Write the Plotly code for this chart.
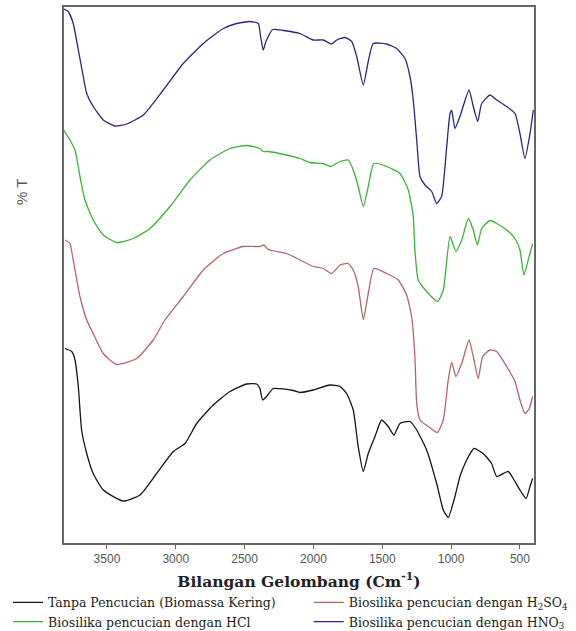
import plotly.graph_objects as go

# ---------------- data (wavenumber cm^-1, relative %T offsets) ----------------
hno3_wn = [3812, 3781, 3745, 3708, 3672, 3647, 3600, 3527, 3442, 3357, 3236, 3091, 2946, 2800,
           2655, 2558, 2461, 2401, 2384, 2365, 2345, 2296, 2219, 2098, 2001, 1929, 1868, 1831,
           1771, 1722, 1686, 1638, 1602, 1566, 1468, 1396, 1335, 1299, 1275, 1250, 1226, 1190,
           1141, 1105, 1069, 1032, 1008, 996, 972, 936, 870, 839, 807, 778, 718, 669, 597, 536,
           500, 464, 427, 403]
hno3_t = [106.8, 106.3, 103.9, 98.6, 93.3, 89.9, 87.3, 84.6, 83.4, 83.8, 85.6, 90.6, 95.9, 99.9,
          102.9, 103.9, 104.3, 103.9, 101.3, 98.6, 100.3, 102.7, 102.5, 101.9, 100.6, 100.6, 99.8, 100.6,
          101.1, 100.3, 97.3, 91.6, 96.3, 99.9, 99.8, 98.9, 96.9, 93.3, 88.6, 80.6, 73.3, 71.6,
          70.3, 67.9, 69.3, 79.3, 85.9, 86.5, 82.9, 85.3, 90.6, 87.3, 84.3, 87.9, 89.6, 88.6, 87.3, 85.9,
          81.9, 76.9, 81.9, 86.6]

hcl_wn = [3812, 3769, 3732, 3696, 3660, 3600, 3527, 3430, 3309, 3188, 3042, 2897, 2752, 2607,
          2485, 2389, 2365, 2328, 2195, 2098, 2025, 1929, 1875, 1807, 1747, 1711, 1675, 1638,
          1602, 1561, 1468, 1372, 1311, 1275, 1263, 1239, 1178, 1098, 1057, 1008, 965, 923, 875,
          839, 810, 778, 718, 669, 597, 536, 500, 471, 440, 408]
hcl_t = [82.5, 80.6, 78.6, 73.3, 68.6, 64.6, 61.6, 60.1, 60.9, 62.9, 67.3, 72.6, 76.6, 78.9,
         79.5, 78.9, 78.3, 78.3, 77.6, 76.9, 76.1, 75.9, 75.3, 76.3, 76.6, 74.6, 71.3, 67.3,
         71.3, 75.9, 75.3, 73.9, 70.6, 65.3, 58.6, 52.6, 50.3, 48.3, 50.6, 61.3, 58.3, 60.6, 64.9,
         62.6, 59.6, 62.9, 64.5, 63.9, 62.6, 60.9, 58.6, 53.6, 56.6, 59.9]

h2so4_wn = [3805, 3769, 3745, 3696, 3647, 3600, 3527, 3430, 3284, 3164, 3079, 2946, 2800, 2655,
            2510, 2389, 2360, 2328, 2195, 2098, 2001, 1929, 1868, 1807, 1747, 1711, 1675, 1638,
            1602, 1561, 1468, 1384, 1323, 1287, 1263, 1250, 1226, 1166, 1101, 1057, 1021, 996,
            965, 923, 870, 839, 803, 771, 718, 669, 597, 536, 500, 464, 432, 408]
h2so4_t = [60.6, 59.9, 56.6, 49.3, 44.6, 41.9, 37.9, 35.7, 36.9, 40.6, 44.6, 49.3, 54.6, 57.9,
           59.3, 59.3, 59.6, 58.7, 57.9, 56.6, 55.3, 54.9, 53.9, 55.6, 55.9, 54.6, 51.3, 44.7,
           49.9, 54.9, 53.9, 52.6, 49.6, 45.3, 37.3, 27.9, 24.6, 23.3, 22.1, 24.6, 32.6, 36.1,
           33.3, 35.9, 40.6, 37.3, 32.9, 37.3, 38.6, 38.3, 35.3, 32.3, 28.6, 25.9, 26.9, 29.3]

raw_wn = [3805, 3756, 3732, 3708, 3684, 3647, 3600, 3527, 3382, 3260, 3139, 3018, 2933, 2848,
          2728, 2607, 2485, 2413, 2389, 2369, 2340, 2292, 2147, 2098, 2001, 1880, 1807, 1759,
          1711, 1675, 1638, 1602, 1553, 1505, 1457, 1415, 1372, 1299, 1250, 1178, 1105, 1057,
          1021, 972, 936, 887, 834, 767, 706, 669, 585, 549, 500, 456, 427, 408]
raw_t = [38.9, 38.3, 36.6, 31.3, 22.6, 17.9, 13.9, 10.6, 8.4, 9.6, 13.9, 18.3, 19.9, 23.9,
         27.6, 30.3, 31.8, 31.8, 30.9, 28.6, 29.3, 30.9, 30.5, 30.1, 30.6, 31.6, 31.3, 29.9,
         26.6, 19.3, 14.3, 17.9, 21.3, 24.6, 23.3, 21.6, 23.9, 24.3, 22.6, 18.6, 11.9, 6.6,
         5.1, 9.3, 13.3, 16.6, 18.9, 17.9, 15.9, 13.3, 14.3, 12.9, 10.6, 8.9, 11.3, 12.9]

series_names = ["Tanpa Pencucian (Biomassa Kering)",
                "Biosilika pencucian dengan H<sub>2</sub>SO<sub>4</sub>",
                "Biosilika pencucian dengan HCl",
                "Biosilika pencucian dengan HNO<sub>3</sub>"]
tick_vals = [3500, 3000, 2500, 2000, 1500, 1000, 500]

colors = ["#151515", "#b86464", "#38b438", "#272788"]
legend_ids = ["legend", "legend2", "legend", "legend2"]
series = [(raw_wn, raw_t), (h2so4_wn, h2so4_t), (hcl_wn, hcl_t), (hno3_wn, hno3_t)]

fig = go.Figure()
for (wn, t), name, col, lg in zip(series, series_names, colors, legend_ids):
    fig.add_trace(go.Scatter(x=wn, y=t, mode="lines", name=name, legend=lg,
                             line=dict(color=col, width=1.3, shape="spline", smoothing=0.5)))

legend_font = dict(family="DejaVu Serif", size=12.5, color="#222")
fig.update_layout(
    width=576, height=631,
    margin=dict(l=64, r=42, t=7, b=88, autoexpand=False),
    paper_bgcolor="white", plot_bgcolor="white",
    showlegend=True,
    legend=dict(orientation="v", xref="container", yref="container",
                x=0.0139, y=0.0685, xanchor="left", yanchor="top",
                tracegroupgap=0, traceorder="normal", bgcolor="rgba(0,0,0,0)",
                font=legend_font),
    legend2=dict(orientation="v", xref="container", yref="container",
                 x=0.536, y=0.0685, xanchor="left", yanchor="top",
                 tracegroupgap=0, traceorder="normal", bgcolor="rgba(0,0,0,0)",
                 font=legend_font),
    xaxis=dict(range=[3812, 398], tickvals=tick_vals, showgrid=False, zeroline=False,
               showline=True, linecolor="#666", linewidth=1.5, mirror=True,
               ticks="outside", ticklen=4, tickcolor="#666",
               tickfont=dict(family="Liberation Sans", size=12, color="#555"),
               title=dict(text="<b>Bilangan Gelombang (Cm<sup>-1</sup>)</b>",
                          font=dict(family="DejaVu Serif", size=15.5, color="#222"),
                          standoff=11)),
    yaxis=dict(range=[0, 107.2], showticklabels=False, showgrid=False, zeroline=False,
               showline=True, linecolor="#666", linewidth=1.5, mirror=True, ticks=""),
    annotations=[dict(text="% T", textangle=-90, xref="paper", yref="paper",
                      x=-0.0894, y=0.655, xanchor="center", yanchor="middle", showarrow=False,
                      font=dict(family="Liberation Sans", size=15, color="#555"))],
)

fig.write_html("out.html", config={"displayModeBar": False},
               post_script="document.body.style.margin='0';")
